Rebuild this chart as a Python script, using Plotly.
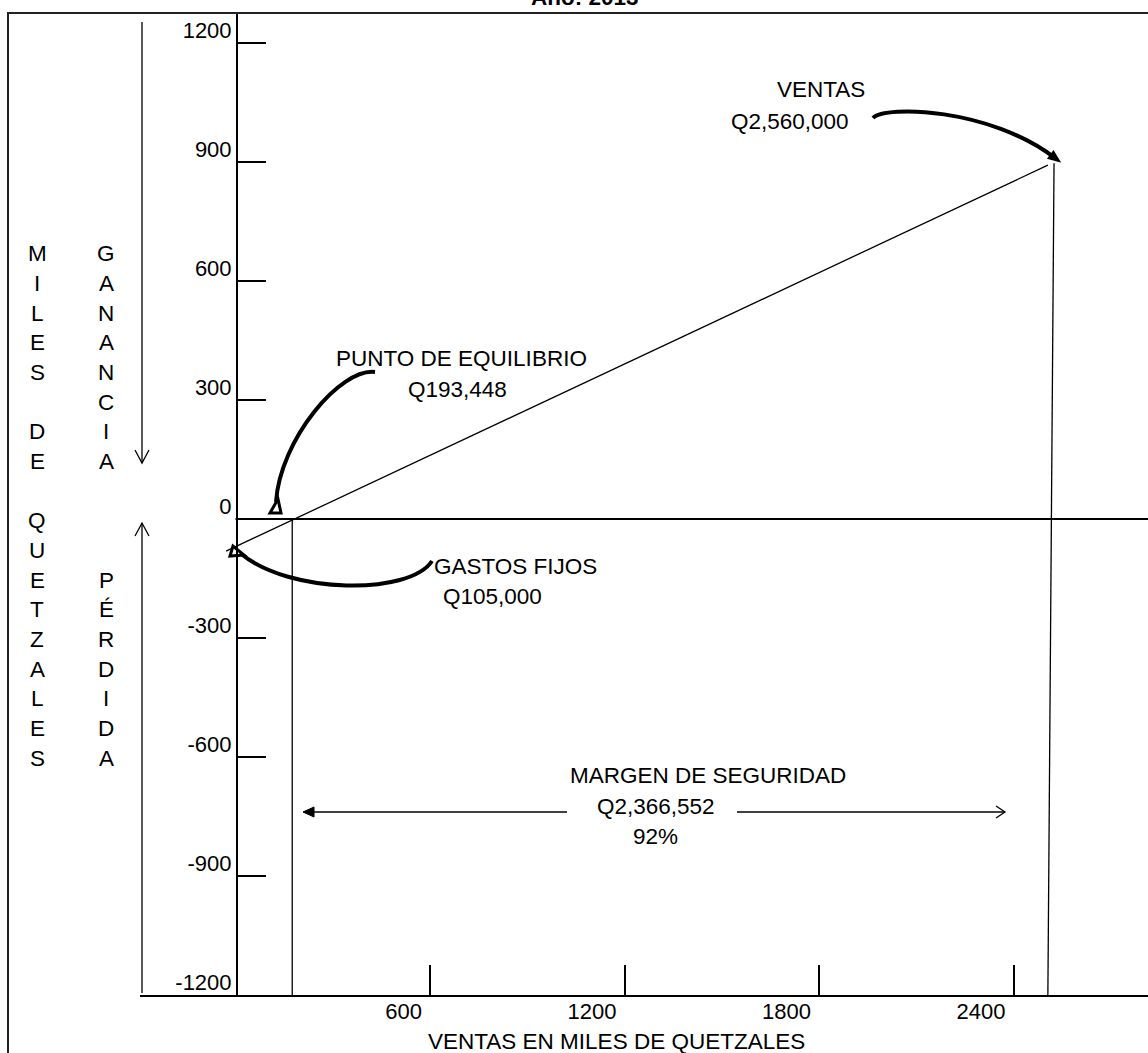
import plotly.graph_objects as go

# ---------------- data ----------------
x_ticks = [600, 1200, 1800, 2400]
x_tick_labels = ["600", "1200", "1800", "2400"]
y_ticks = [1200, 900, 600, 300, 0, -300, -600, -900, -1200]
y_tick_labels = ["1200", "900", "600", "300", "0", "-300", "-600", "-900", "-1200"]

# profit / sales line (miles de quetzales)
profit_x = [-29, 2506]
profit_y = [-81, 892]
# break-even vertical
breakeven_x = [175, 175]
breakeven_y = [0, -1200]
# sales vertical
ventas_x = [2525, 2506]
ventas_y = [897, -1200]
# zero line
zero_x = [0, 2815]
zero_y = [0, 0]

title_text = "<b>Año: 2013</b>"
x_title = "VENTAS EN MILES DE QUETZALES"
col1_letters = ["M", "I", "L", "E", "S", "", "D", "E", "", "Q", "U", "E", "T", "Z", "A", "L", "E", "S"]
col2_letters = ["G", "A", "N", "A", "N", "C", "I", "A", "", "", "", "P", "É", "R", "D", "I", "D", "A"]

# ---------------- layout helpers ----------------
W, H = 1148, 1053
FONT = "Liberation Sans, Arial, sans-serif"
FS = 22.5
X0_PX, X_SCALE = 235.5, 0.32417       # px of x=0, px per unit
Y0_PX, Y_SCALE = 519.0, 119.0 / 300.0  # px of y=0, px per unit


def px(x):
    return x / W


def py(y):
    return 1 - y / H


def P(x, y):
    return f"{px(x):.5f},{py(y):.5f}"


x_range = [(140 - X0_PX) / X_SCALE, (W - X0_PX) / X_SCALE]
y_range = [-1200, (Y0_PX - 13) / Y_SCALE]

fig = go.Figure()
line_style = dict(color="black", width=1.3)
fig.add_trace(go.Scatter(x=zero_x, y=zero_y, mode="lines", line=dict(color="black", width=2), hoverinfo="skip"))
fig.add_trace(go.Scatter(x=profit_x, y=profit_y, mode="lines", line=line_style, hoverinfo="skip"))
fig.add_trace(go.Scatter(x=breakeven_x, y=breakeven_y, mode="lines", line=line_style, hoverinfo="skip"))
fig.add_trace(go.Scatter(x=ventas_x, y=ventas_y, mode="lines", line=line_style, hoverinfo="skip"))

tickfont = dict(family=FONT, size=22, color="black")
fig.update_layout(
    width=W, height=H, autosize=False,
    margin=dict(l=0, r=0, t=0, b=0, pad=0),
    paper_bgcolor="white", plot_bgcolor="white", showlegend=False,
    xaxis=dict(
        domain=[140 / W, 1], range=x_range, anchor="y",
        showgrid=False, zeroline=False, showline=True, linecolor="black", linewidth=2,
        ticks="inside", ticklen=30, tickwidth=2, tickcolor="black",
        tickvals=x_ticks, ticktext=x_tick_labels, ticklabelposition="outside left",
        ticklabelshift=-6, ticklabelstandoff=-4,
        tickfont=tickfont,
    ),
    yaxis=dict(
        domain=[(H - 995) / H, (H - 13) / H], range=y_range, anchor="free", position=237 / W,
        showgrid=False, zeroline=False, showline=True, linecolor="black", linewidth=2,
        ticks="inside", ticklen=28, tickwidth=2, tickcolor="black",
        tickvals=y_ticks, ticktext=y_tick_labels, ticklabelposition="outside top",
        ticklabelshift=4,
        tickfont=tickfont,
    ),
)

shapes = []
# outer frame
shapes.append(dict(type="rect", xref="paper", yref="paper", x0=px(8), y0=py(1070), x1=px(1170), y1=py(13),
                   line=dict(color="#222", width=2)))


def add_path(d, width, fill=None):
    s = dict(type="path", xref="paper", yref="paper", path=d, line=dict(color="black", width=width))
    if fill:
        s["fillcolor"] = fill
    shapes.append(s)


# curved pointers
add_path(f"M{P(873,118)} C{P(885,105)} {P(990,108)} {P(1055,158)}", 4)
add_path(f"M{P(1059,161)} L{P(1048.6,158.2)} L{P(1053.4,151.8)} Z", 2, "black")
add_path(f"M{P(375,372)} C{P(340,368)} {P(280,440)} {P(276,502)}", 4)
add_path(f"M{P(270,513)} L{P(281,513)} L{P(278,499)} Z", 3)
add_path(f"M{P(432,561)} C{P(410,595)} {P(290,595)} {P(240,553)}", 4)
add_path(f"M{P(233,546)} L{P(230,556)} L{P(244,555)} Z", 3)
# margen de seguridad arrows
add_path(f"M{P(567,812)} L{P(312,812)}", 1.3)
add_path(f"M{P(303,812)} L{P(314,807)} L{P(314,817)} Z", 1, "black")
add_path(f"M{P(737,812)} L{P(1005,812)}", 1.3)
add_path(f"M{P(996,806)} L{P(1005,812)} L{P(996,818)}", 1.3)
# ganancia / perdida arrows
add_path(f"M{P(142,22)} L{P(142,463)}", 1.3)
add_path(f"M{P(135,450)} L{P(142,463)} L{P(149,450)}", 1.3)
add_path(f"M{P(142,523)} L{P(142,993)}", 1.3)
add_path(f"M{P(135,536)} L{P(142,523)} L{P(149,536)}", 1.3)
fig.update_layout(shapes=shapes)

annots = []


def label(text, x, y, size=FS, xanchor="center", yanchor="middle"):
    annots.append(dict(text=text, x=px(x), y=py(y), xref="paper", yref="paper", showarrow=False,
                       xanchor=xanchor, yanchor=yanchor, font=dict(family=FONT, size=size, color="black")))


label(title_text, 585, 12, yanchor="bottom")
label("VENTAS", 821, 89)
label("Q2,560,000", 790, 121)
label("PUNTO DE EQUILIBRIO", 461, 358)
label("Q193,448", 457, 389)
label("GASTOS FIJOS", 515, 566)
label("Q105,000", 492, 596)
label("MARGEN DE SEGURIDAD", 708, 775)
label("Q2,366,552", 656, 806)
label("92%", 655, 836)
label(x_title, 616, 1041)
for i, ch in enumerate(col1_letters):
    if ch:
        label(ch, 37, 254 + 29.65 * i)
for i, ch in enumerate(col2_letters):
    if ch:
        label(ch, 106, 254 + 29.65 * i)
fig.update_layout(annotations=annots)

fig.write_html("out.html", config={"displayModeBar": False},
               post_script="document.body.style.margin='0';document.body.style.overflow='hidden';")
